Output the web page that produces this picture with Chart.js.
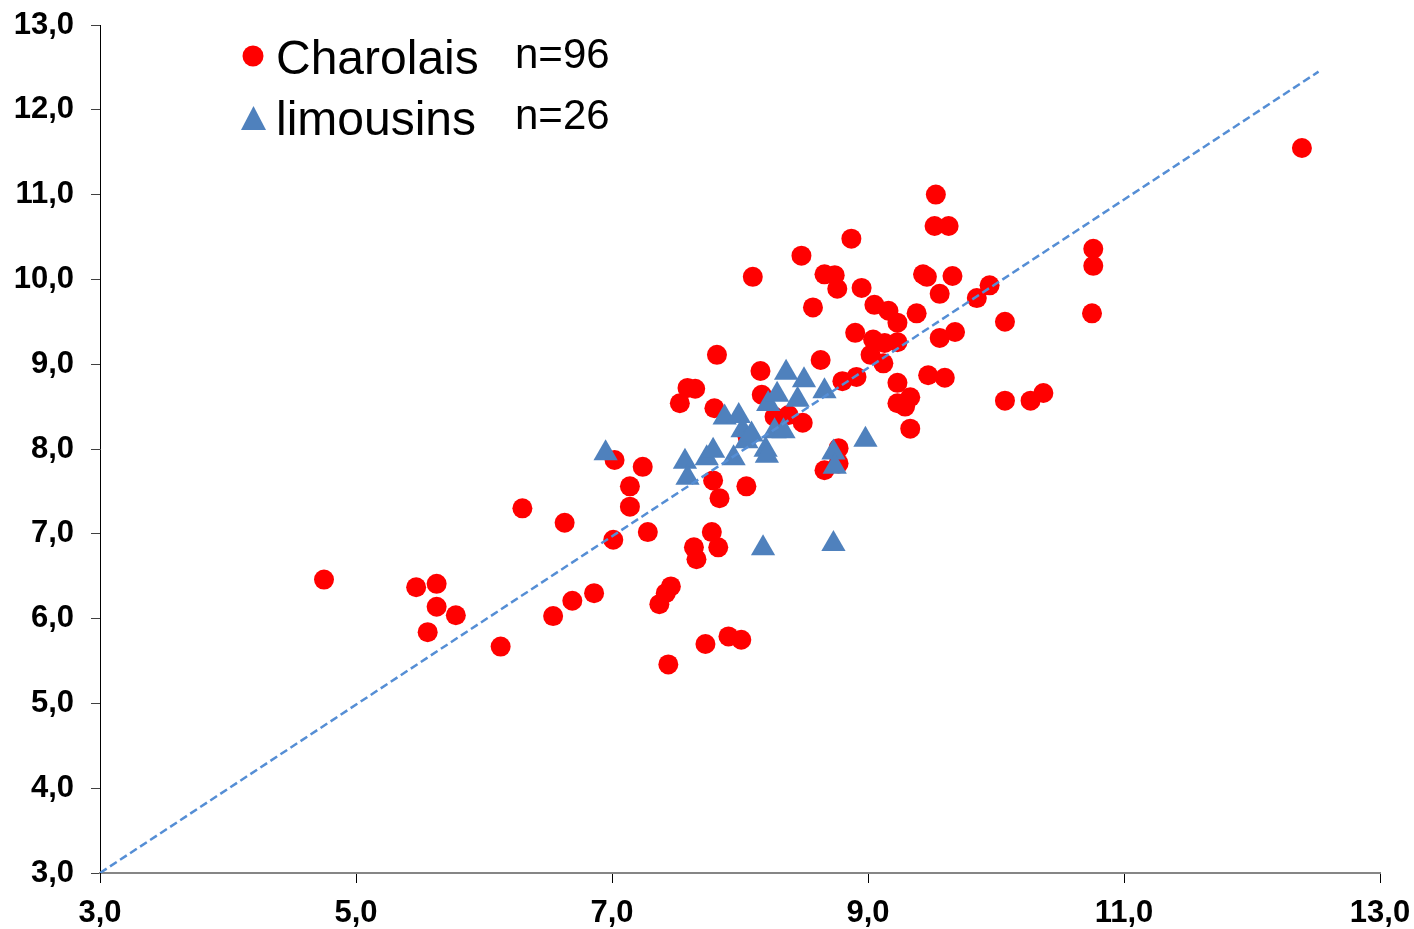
<!DOCTYPE html>
<html>
<head>
<meta charset="utf-8">
<script src="https://cdn.jsdelivr.net/npm/chart.js@4.4.1/dist/chart.umd.min.js"></script>
<style>
  html, body { margin: 0; padding: 0; background: #ffffff; }
  #wrap { width: 1414px; height: 929px; }
</style>
</head>
<body>
<div id="wrap"><canvas id="c" width="1414" height="929"></canvas></div>
<script>
// ---- Data ----
const charolaisX = [4.75,5.47,5.63,5.63,5.56,5.78,6.13,6.30,6.54,6.63,6.69,6.86,7.01,7.02,7.14,7.14,7.24,7.28,7.37,7.42,
  7.46,7.44,7.53,7.59,7.65,7.64,7.66,7.73,7.78,7.79,7.80,7.82,7.84,7.83,7.91,8.01,8.05,8.10,8.16,8.17,
  8.06,8.27,8.38,8.49,8.48,8.57,8.63,8.66,8.74,8.76,8.66,8.77,8.77,8.87,8.80,8.91,8.90,8.95,9.02,9.05,
  9.04,9.12,9.16,9.23,9.13,9.23,9.23,9.23,9.29,9.33,9.33,9.38,9.43,9.46,9.47,9.52,9.53,9.63,9.56,9.56,
  9.60,9.66,9.68,9.85,9.95,10.07,10.07,10.27,10.37,10.76,10.76,10.75,12.39];
const charolaisY = [6.46,6.37,6.41,6.14,5.84,6.04,5.67,7.30,6.03,7.13,6.21,6.30,6.93,7.87,7.56,7.32,7.79,7.02,6.17,6.30,
  6.38,5.46,8.54,8.72,8.71,6.84,6.70,5.70,7.02,7.63,8.48,9.11,7.42,6.84,5.79,5.75,7.56,10.03,8.92,8.64,
  8.14,8.38,8.40,8.31,10.28,9.67,9.05,10.06,10.05,9.89,7.75,8.01,7.83,10.48,8.80,8.85,9.37,9.90,9.11,9.70,
  9.29,9.01,9.63,9.49,9.25,9.26,8.54,8.78,8.50,8.61,8.24,9.60,10.06,10.03,8.87,10.63,11.00,10.63,9.83,9.31,
  8.84,10.04,9.38,9.78,9.93,9.50,8.57,8.57,8.66,10.36,10.16,9.60,11.55];

const limousinsX = [6.95,7.57,7.59,7.74,7.79,7.95,7.88,7.99,8.02,8.05,8.09,8.20,8.21,8.22,8.29,8.27,8.34,8.36,8.45,8.50,
  8.66,8.73,8.74,8.98,8.18,8.73];
const limousinsY = [7.95,7.85,7.66,7.89,7.98,7.89,8.37,8.39,8.22,8.09,8.17,7.99,7.92,8.53,8.64,8.21,8.21,8.90,8.58,8.81,
  8.68,7.96,7.79,8.11,6.83,6.88];

const diagX = [3.0, 12.52];
const diagY = [3.0, 12.45];

const legendNames = ['Charolais', 'limousins'];
const legendCounts = ['n=96', 'n=26'];

const xTickValues = [3, 5, 7, 9, 11, 13];
const yTickValues = [3, 4, 5, 6, 7, 8, 9, 10, 11, 12, 13];

// ---- Build datasets ----
const toPts = (xs, ys) => xs.map((x, i) => ({ x: x, y: ys[i] }));

const fmt = v => Number(v).toFixed(1).replace('.', ',');

const legendPlugin = {
  id: 'customLegend',
  afterDraw(chart) {
    const ctx = chart.ctx;
    ctx.save();
    // circle marker
    ctx.fillStyle = '#FF0000';
    ctx.beginPath();
    ctx.arc(253, 56, 10.5, 0, Math.PI * 2);
    ctx.fill();
    // triangle marker
    ctx.fillStyle = '#4F81BD';
    ctx.beginPath();
    ctx.moveTo(253.5, 106);
    ctx.lineTo(266, 130);
    ctx.lineTo(241, 130);
    ctx.closePath();
    ctx.fill();
    ctx.fillStyle = '#000000';
    ctx.textBaseline = 'alphabetic';
    ctx.textAlign = 'left';
    ctx.font = '48px "Liberation Sans", Arial, sans-serif';
    ctx.fillText(legendNames[0], 276, 74);
    ctx.fillText(legendNames[1], 276, 135);
    ctx.font = '42px "Liberation Sans", Arial, sans-serif';
    ctx.fillText(legendCounts[0], 515, 68);
    ctx.fillText(legendCounts[1], 515, 129);
    ctx.restore();
  }
};

const tickFont = { family: '"Liberation Sans", Arial, sans-serif', size: 31, weight: 'bold' };

new Chart(document.getElementById('c'), {
  type: 'scatter',
  data: {
    datasets: [
      {
        type: 'line',
        label: 'diag',
        data: toPts(diagX, diagY),
        borderColor: '#558ED5',
        borderWidth: 2.5,
        borderDash: [8, 4],
        pointRadius: 0,
        fill: false,
        order: 0
      },
      {
        label: legendNames[1],
        data: toPts(limousinsX, limousinsY),
        pointStyle: 'triangle',
        pointRadius: 14,
        pointBackgroundColor: '#4F81BD',
        backgroundColor: '#4F81BD',
        borderWidth: 0,
        pointBorderWidth: 0,
        order: 1
      },
      {
        label: legendNames[0],
        data: toPts(charolaisX, charolaisY),
        pointStyle: 'circle',
        pointRadius: 10,
        pointBackgroundColor: '#FF0000',
        backgroundColor: '#FF0000',
        borderWidth: 0,
        pointBorderWidth: 0,
        order: 2
      }
    ]
  },
  options: {
    responsive: false,
    animation: false,
    devicePixelRatio: 1,
    layout: { padding: { left: 0, right: 34, top: 25, bottom: 0 } },
    plugins: {
      legend: { display: false },
      tooltip: { enabled: false }
    },
    scales: {
      x: {
        type: 'linear',
        min: 3, max: 13,
        afterBuildTicks: axis => { axis.ticks = xTickValues.map(v => ({ value: v })); },
        afterFit: axis => { axis.height = 56; axis.paddingLeft = 0; axis.paddingRight = 0; },
        border: { display: true, color: '#868686', width: 2 },
        grid: { display: true, drawOnChartArea: false, drawTicks: true, tickLength: 10, color: '#000000', lineWidth: 1 },
        ticks: { color: '#000000', font: tickFont, padding: 12, maxRotation: 0, autoSkip: false, callback: v => fmt(v) }
      },
      y: {
        type: 'linear',
        min: 3, max: 13,
        afterBuildTicks: axis => { axis.ticks = yTickValues.map(v => ({ value: v })); },
        afterFit: axis => { axis.width = 100; axis.paddingTop = 0; axis.paddingBottom = 0; },
        border: { display: true, color: '#000000', width: 1 },
        grid: { display: true, drawOnChartArea: false, drawTicks: true, tickLength: 9, color: '#404040', lineWidth: 1 },
        ticks: { color: '#000000', font: tickFont, padding: 17, autoSkip: false, callback: v => fmt(v) }
      }
    }
  },
  plugins: [legendPlugin]
});
</script>
</body>
</html>
